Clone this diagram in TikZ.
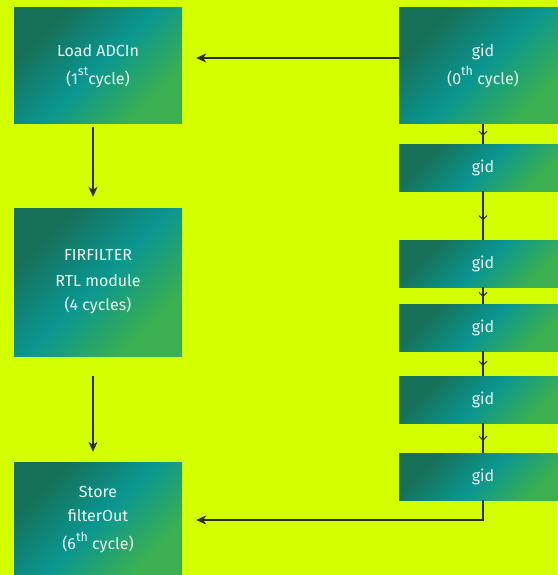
\documentclass[tikz,border=0pt]{standalone}
\usepackage{fontspec}
\setmainfont{Fira Sans}
\usetikzlibrary{arrows.meta,decorations.markings}
\definecolor{limebg}{RGB}{212,255,0}
\definecolor{boxdark}{RGB}{23,112,88}
\definecolor{boxteal}{RGB}{10,150,145}
\definecolor{boxgreen}{RGB}{60,176,80}
\definecolor{boxtext}{RGB}{232,248,238}
\definecolor{wire}{RGB}{45,45,40}
\pgfdeclarehorizontalshading{boxshade}{100bp}{color(0bp)=(boxdark); color(28bp)=(boxdark); color(50bp)=(boxteal); color(72bp)=(boxgreen); color(100bp)=(boxgreen)}
\newcommand{\ordsup}[1]{\raisebox{0.55em}{\fontsize{12.5}{12.5}\selectfont #1}}
\tikzset{
  stage/.style={inner sep=0pt, minimum width=168pt, shading=boxshade, shading angle=-45,
    text=boxtext, align=center, font=\fontsize{16}{24}\selectfont},
  bigbox/.style={stage, minimum height=116pt},
  gidbox/.style={stage, minimum height=47pt},
  flow/.style={draw=wire, line width=1.2pt, -{Stealth[length=10pt,width=9pt,inset=3pt]}},
  tick/.style={draw=wire, line width=1.1pt, postaction={decorate},
    decoration={markings, mark=at position 0.6 with {\arrow{Straight Barb[length=4pt,width=8pt]}}}}
}

\begin{document}
\begin{tikzpicture}[x=1pt,y=-1pt]
			%%%%% START %%%%%
			
			\useasboundingbox (0,0) rectangle (557,575);
			\fill[limebg] (0,0) rectangle (557,575);
			
			\node[bigbox] (load) at (98,66) {Load ADCIn\\[4pt](1\ordsup{st}cycle)};
			\node[bigbox, minimum height=148pt] (fir) at (98,282) {FIRFILTER\\[2pt]RTL module\\ (4 cycles)};
			\node[bigbox] (store) at (98,520) {Store\\filterOut\\[4pt](6\ordsup{th} cycle)};
			
			\node[bigbox] (gid0) at (483,66) {gid\\[4pt](0\ordsup{th} cycle)};
			\node[gidbox] (gid1) at (483,167.5) {gid};
			\node[gidbox] (gid2) at (483,263.5) {gid};
			\node[gidbox] (gid3) at (483,327.5) {gid};
			\node[gidbox] (gid4) at (483,399.5) {gid};
			\node[gidbox] (gid5) at (483,476.5) {gid};
			
			\draw[flow] ([yshift=8pt]gid0.west) -- ([xshift=14pt,yshift=8pt]load.east);
			\draw[flow] ([xshift=-5pt,yshift=-3pt]load.south) -- ([xshift=-5pt,yshift=11pt]fir.north);
			\draw[flow] ([xshift=-5pt,yshift=-20pt]fir.south) -- ([xshift=-5pt,yshift=10pt]store.north);
			
			\draw[tick] (gid0.south) -- (gid1.north);
			\draw[tick] (gid1.south) -- (gid2.north);
			\draw[tick] (gid2.south) -- (gid3.north);
			\draw[tick] (gid3.south) -- (gid4.north);
			\draw[tick] (gid4.south) -- (gid5.north);
			\draw[flow] (gid5.south) |- ([xshift=14pt]store.east);
			
			%%%%% END %%%%%
\end{tikzpicture}
\end{document}
